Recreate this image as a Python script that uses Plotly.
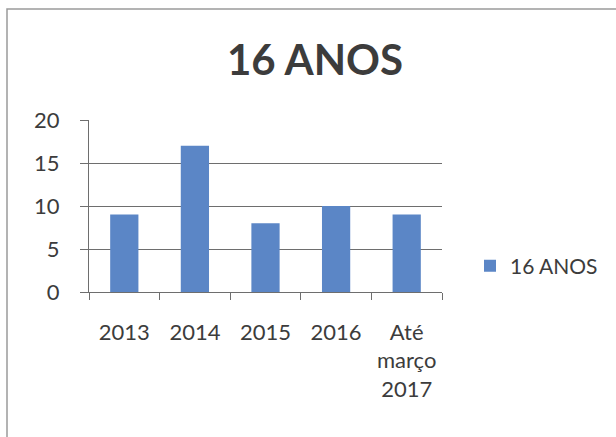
import plotly.graph_objects as go

categories = ["2013", "2014", "2015", "2016", "Até<br>março<br>2017"]
values = [9, 17, 8, 10, 9]
series_name = "16 ANOS"
title_text = "16 ANOS"

W, H = 616, 437
L, R, T, B = 89, 174, 120, 145
pw, ph = W - L - R, H - T - B

def px_to_paper_x(px):
    return (px - L) / pw

def px_to_paper_y(py):
    return (H - B - py) / ph

FONT = "Lato"
TXT = "#3c3c3c"
GRID = "#6e6e6e"

fig = go.Figure()
fig.add_trace(go.Bar(
    x=categories, y=values, name=series_name,
    marker=dict(color="#5b86c6", line=dict(width=0)),
    showlegend=True,
))

fig.update_layout(
    width=W, height=H,
    margin=dict(l=L, r=R, t=T, b=B, autoexpand=False),
    paper_bgcolor="white", plot_bgcolor="white",
    bargap=0.6,
    font=dict(family=FONT, color=TXT, size=20),
    title=dict(text="<b>" + title_text + "</b>", x=315 / W, xanchor="center",
               y=1 - 60 / H, yanchor="middle",
               font=dict(family=FONT, size=42, color=TXT)),
    legend=dict(x=px_to_paper_x(470), y=px_to_paper_y(266), xanchor="left",
                yanchor="middle", font=dict(family=FONT, size=21, color=TXT),
                bgcolor="rgba(0,0,0,0)"),
    xaxis=dict(showline=True, linecolor=GRID, linewidth=1.2, ticks="outside",
               ticklen=7, tickcolor=GRID, tickson="boundaries",
               tickfont=dict(family=FONT, size=22, color=TXT),
               ticklabelstandoff=20, showgrid=False),
    yaxis=dict(range=[0, 20], dtick=5, showline=True, linecolor=GRID, linewidth=1.2,
               ticks="outside", ticklen=8, tickcolor=GRID, showgrid=True,
               gridcolor=GRID, gridwidth=1.2, zeroline=False,
               tickfont=dict(family=FONT, size=22, color=TXT),
               ticklabelstandoff=16),
    shapes=[dict(type="rect", xref="paper", yref="paper",
                 x0=px_to_paper_x(7), x1=px_to_paper_x(630),
                 y0=px_to_paper_y(450), y1=px_to_paper_y(9),
                 line=dict(color="#9a9a9a", width=1.5), layer="below")],
)

fig.write_html("out.html", config={"displayModeBar": False},
               post_script="document.body.style.margin='0';document.body.style.padding='0';")
